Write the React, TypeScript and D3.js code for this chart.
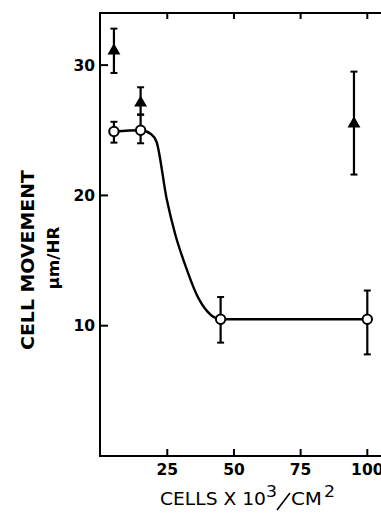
import React, { useEffect, useRef } from 'react';
import * as d3 from 'd3';

// open circles (mean +/- error)
const circleX = [5, 15, 45, 100];
const circleY = [24.9, 25.0, 10.5, 10.5];
const circleLo = [24.05, 24.0, 8.7, 7.8];
const circleHi = [25.65, 26.2, 12.2, 12.7];

// filled triangles
const triX = [5, 15, 95];
const triY = [31.1, 27.1, 25.5];
const triLo = [29.4, 26.2, 21.6];
const triHi = [32.8, 28.3, 29.5];

// hand drawn fit through the open circles
const fitCurve: [number, number][] = [
  [5, 24.9], [15, 25.0], [19, 24.7], [21, 24.1], [24.8, 19.7], [28, 17.0],
  [32, 14.5], [36, 12.4], [40, 11.1], [45, 10.5], [100, 10.5],
];

const xTicks = [25, 50, 75, 100];
const yTicks = [10, 20, 30];

export default function App() {
  const ref = useRef<SVGSVGElement>(null);

  useEffect(() => {
    const svg = d3.select(ref.current);
    svg.selectAll('*').remove();

    const x = d3.scaleLinear().domain([0, 100]).range([100.6, 367.3]);
    const y = d3.scaleLinear().domain([0, 34]).range([456, 13]);
    const left = 100, bottom = 456, top = 13, right = 395;
    const font = "'DejaVu Sans', Arial, sans-serif";

    const g = svg.append('g');

    // frame
    g.append('path')
      .attr('d', `M${right},${top} H${left} V${bottom} H${right}`)
      .attr('fill', 'none').attr('stroke', '#000').attr('stroke-width', 2);

    // x ticks (bottom pointing up, top pointing down)
    xTicks.forEach(t => {
      g.append('line').attr('x1', x(t)).attr('x2', x(t)).attr('y1', bottom).attr('y2', bottom - 7)
        .attr('stroke', '#000').attr('stroke-width', 2);
      g.append('line').attr('x1', x(t)).attr('x2', x(t)).attr('y1', top).attr('y2', top + 6)
        .attr('stroke', '#000').attr('stroke-width', 2);
      g.append('text').attr('x', x(t)).attr('y', bottom + 19)
        .attr('text-anchor', 'middle').attr('font-family', font).attr('font-size', 15.5)
        .attr('font-weight', 'bold').text(t);
    });

    yTicks.forEach(t => {
      g.append('line').attr('x1', left).attr('x2', left + 8).attr('y1', y(t)).attr('y2', y(t))
        .attr('stroke', '#000').attr('stroke-width', 2);
      g.append('text').attr('x', 95).attr('y', y(t)).attr('dy', '0.36em')
        .attr('text-anchor', 'end').attr('font-family', font).attr('font-size', 15.5)
        .attr('font-weight', 'bold').text(t);
    });

    // fitted curve
    const line = d3.line<[number, number]>()
      .x(d => x(d[0])).y(d => y(d[1]))
      .curve(d3.curveMonotoneX);
    g.append('path').attr('d', line(fitCurve)!)
      .attr('fill', 'none').attr('stroke', '#000').attr('stroke-width', 2.4);

    const errBar = (px: number, lo: number, hi: number) => {
      g.append('line').attr('x1', x(px)).attr('x2', x(px)).attr('y1', y(lo)).attr('y2', y(hi))
        .attr('stroke', '#000').attr('stroke-width', 2.2);
      [lo, hi].forEach(v => {
        g.append('line').attr('x1', x(px) - 3.5).attr('x2', x(px) + 3.5).attr('y1', y(v)).attr('y2', y(v))
          .attr('stroke', '#000').attr('stroke-width', 2);
      });
    };

    triX.forEach((d, i) => errBar(d, triLo[i], triHi[i]));
    circleX.forEach((d, i) => errBar(d, circleLo[i], circleHi[i]));

    // triangles
    const tri = d3.symbol().type(d3.symbolTriangle).size(72);
    g.selectAll('.tri').data(triX).join('path').attr('class', 'tri')
      .attr('d', tri()!)
      .attr('transform', (d, i) => `translate(${x(d)},${y(triY[i])})`)
      .attr('fill', '#000');

    // circles
    g.selectAll('.circ').data(circleX).join('circle').attr('class', 'circ')
      .attr('cx', d => x(d)).attr('cy', (d, i) => y(circleY[i])).attr('r', 4.7)
      .attr('fill', '#fff').attr('stroke', '#000').attr('stroke-width', 2);

    // x title: CELLS X 10^3 / CM^2
    const tt = (tx: number, ty: number, s: string, size: number, len: number) =>
      svg.append('text').attr('x', tx).attr('y', ty).attr('font-family', font)
        .attr('font-size', size).attr('textLength', len).attr('lengthAdjust', 'spacingAndGlyphs').text(s);
    tt(160, 505, 'CELLS X 10', 17, 106);
    tt(266, 497, '3', 15, 11);
    svg.append('line').attr('x1', 277).attr('y1', 510).attr('x2', 290).attr('y2', 493)
      .attr('stroke', '#000').attr('stroke-width', 1.6);
    tt(291, 505, 'CM', 17, 31);
    tt(324, 497, '2', 15, 11);

    // y title
    svg.append('text').attr('transform', 'translate(34,260) rotate(-90)')
      .attr('text-anchor', 'middle').attr('font-family', font).attr('font-size', 17)
      .attr('font-weight', 'bold').attr('textLength', 180).attr('lengthAdjust', 'spacingAndGlyphs')
      .text('CELL MOVEMENT');
    svg.append('text').attr('transform', 'translate(59,258) rotate(-90)')
      .attr('text-anchor', 'middle').attr('font-family', font).attr('font-size', 15)
      .attr('font-weight', 'bold').attr('textLength', 63).attr('lengthAdjust', 'spacingAndGlyphs')
      .text('μm/HR');
  }, []);

  return (
    <svg ref={ref} width={381} height={513}
      style={{ position: 'absolute', left: 0, top: 0, background: '#fff' }} />
  );
}
